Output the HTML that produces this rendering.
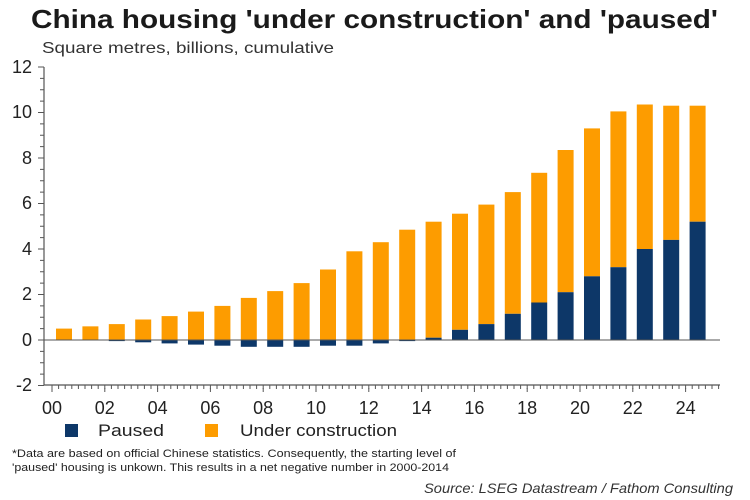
<!DOCTYPE html>
<html><head><style>body{margin:0;background:#fff}svg{display:block;font-family:"Liberation Sans",Arial,sans-serif}</style></head><body>
<svg width="750" height="500" xmlns="http://www.w3.org/2000/svg">
<text x="31" y="28" font-size="26" font-weight="bold" fill="#1a1a1a" textLength="687" lengthAdjust="spacingAndGlyphs">China housing 'under construction' and 'paused'</text>
<text x="42" y="53" font-size="16" fill="#333" textLength="292" lengthAdjust="spacingAndGlyphs">Square metres, billions, cumulative</text>
<g font-size="18" fill="#222" text-anchor="end">
<text x="32" y="73">12</text><text x="32" y="118">10</text><text x="32" y="164">8</text><text x="32" y="209">6</text><text x="32" y="255">4</text><text x="32" y="300">2</text><text x="32" y="346">0</text><text x="32" y="391">-2</text>
</g>
<g fill="#fd9c00">
<rect x="56" y="328.6" width="16" height="11.4"/>
<rect x="82.4" y="326.35" width="16" height="13.65"/>
<rect x="108.8" y="324.1" width="16" height="15.9"/>
<rect x="135.2" y="319.5" width="16" height="20.5"/>
<rect x="161.6" y="316.1" width="16" height="23.9"/>
<rect x="188" y="311.6" width="16" height="28.4"/>
<rect x="214.4" y="305.9" width="16" height="34.1"/>
<rect x="240.8" y="297.9" width="16" height="42.1"/>
<rect x="267.2" y="291.1" width="16" height="48.9"/>
<rect x="293.6" y="283.1" width="16" height="56.9"/>
<rect x="320" y="269.5" width="16" height="70.5"/>
<rect x="346.4" y="251.3" width="16" height="88.7"/>
<rect x="372.8" y="242.2" width="16" height="97.8"/>
<rect x="399.2" y="229.7" width="16" height="110.3"/>
<rect x="425.6" y="221.7" width="16" height="116"/>
<rect x="452" y="213.7" width="16" height="116.1"/>
<rect x="478.4" y="204.6" width="16" height="119.5"/>
<rect x="504.8" y="192.1" width="16" height="121.7"/>
<rect x="531.2" y="172.8" width="16" height="129.7"/>
<rect x="557.6" y="150.0" width="16" height="142.2"/>
<rect x="584" y="128.4" width="16" height="147.9"/>
<rect x="610.4" y="111.4" width="16" height="155.8"/>
<rect x="636.8" y="104.5" width="16" height="144.5"/>
<rect x="663.2" y="105.7" width="16" height="134.2"/>
<rect x="689.6" y="105.7" width="16" height="116"/>
</g>
<g fill="#0d3768">
<rect x="108.8" y="340" width="16" height="1.1"/>
<rect x="135.2" y="340" width="16" height="2.3"/>
<rect x="161.6" y="340" width="16" height="3.4"/>
<rect x="188" y="340" width="16" height="4.6"/>
<rect x="214.4" y="340" width="16" height="5.7"/>
<rect x="240.8" y="340" width="16" height="6.8"/>
<rect x="267.2" y="340" width="16" height="6.8"/>
<rect x="293.6" y="340" width="16" height="6.8"/>
<rect x="320" y="340" width="16" height="5.7"/>
<rect x="346.4" y="340" width="16" height="5.7"/>
<rect x="372.8" y="340" width="16" height="3.4"/>
<rect x="399.2" y="340" width="16" height="1.1"/>
<rect x="425.6" y="337.7" width="16" height="2.3"/>
<rect x="452" y="329.8" width="16" height="10.2"/>
<rect x="478.4" y="324.1" width="16" height="15.9"/>
<rect x="504.8" y="313.8" width="16" height="26.2"/>
<rect x="531.2" y="302.5" width="16" height="37.5"/>
<rect x="557.6" y="292.2" width="16" height="47.8"/>
<rect x="584" y="276.3" width="16" height="63.7"/>
<rect x="610.4" y="267.2" width="16" height="72.8"/>
<rect x="636.8" y="249" width="16" height="91"/>
<rect x="663.2" y="239.9" width="16" height="100.1"/>
<rect x="689.6" y="221.7" width="16" height="118.3"/>
</g>
<line x1="44" y1="67" x2="44" y2="385" stroke="#555" stroke-width="1.2"/>
<line x1="44" y1="385" x2="720" y2="385" stroke="#555" stroke-width="1.2"/>
<line x1="44" y1="340" x2="720" y2="340" stroke="#555" stroke-width="1"/>
<line x1="42" y1="66.5" x2="42" y2="386" stroke="#555" stroke-width="4" stroke-dasharray="1 10.375"/>
<line x1="39" y1="66.5" x2="39" y2="386" stroke="#555" stroke-width="2" stroke-dasharray="1 44.5"/>
<line x1="51.5" y1="387" x2="720" y2="387" stroke="#555" stroke-width="4" stroke-dasharray="1 5.6"/>
<line x1="51.5" y1="390" x2="720" y2="390" stroke="#555" stroke-width="4" stroke-dasharray="1 51.8"/>
<g font-size="18" fill="#222" text-anchor="middle">
<text x="52" y="414">00</text><text x="104.8" y="414">02</text><text x="157.6" y="414">04</text><text x="210.4" y="414">06</text><text x="263.2" y="414">08</text><text x="316" y="414">10</text><text x="368.8" y="414">12</text><text x="421.6" y="414">14</text><text x="474.4" y="414">16</text><text x="527.2" y="414">18</text><text x="580" y="414">20</text><text x="632.8" y="414">22</text><text x="685.6" y="414">24</text>
</g>
<rect x="65" y="424" width="13" height="13" fill="#0d3768"/>
<text x="98" y="436" font-size="17" fill="#222" textLength="66" lengthAdjust="spacingAndGlyphs">Paused</text>
<rect x="205" y="424" width="13" height="13" fill="#fd9c00"/>
<text x="240" y="436" font-size="17" fill="#222" textLength="157" lengthAdjust="spacingAndGlyphs">Under construction</text>
<text x="12" y="457" font-size="11" fill="#222" textLength="444" lengthAdjust="spacingAndGlyphs">*Data are based on official Chinese statistics. Consequently, the starting level of</text>
<text x="12" y="471" font-size="11" fill="#222" textLength="437" lengthAdjust="spacingAndGlyphs">'paused' housing is unkown. This results in a net negative number in 2000-2014</text>
<text x="424" y="493" font-size="14" font-style="italic" fill="#333" textLength="309" lengthAdjust="spacingAndGlyphs">Source: LSEG Datastream / Fathom Consulting</text>
</svg>
</body></html>
